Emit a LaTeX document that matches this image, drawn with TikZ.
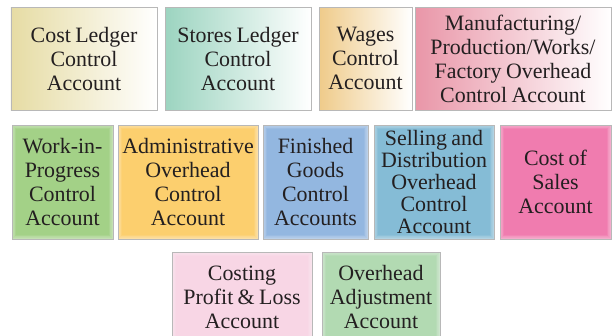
\documentclass[tikz,border=0pt]{standalone}
\usepackage{fontspec}
\setmainfont{Liberation Serif}
\definecolor{txt}{HTML}{231F20}
\definecolor{cA}{HTML}{E6DCA4}
\definecolor{cB}{HTML}{9CD4C0}
\definecolor{cC}{HTML}{EFCB8A}
\definecolor{cD}{HTML}{E996A8}
\definecolor{cE}{HTML}{A3D187}
\definecolor{cF}{HTML}{FCCF6E}
\definecolor{cG}{HTML}{93B7E0}
\definecolor{cH}{HTML}{85BCD6}
\definecolor{cI}{HTML}{F07CAF}
\definecolor{cJ}{HTML}{F8D6E5}
\definecolor{cK}{HTML}{B2DAB2}
\tikzset{
  acct/.style={draw=black!28, line width=0.6bp, inner sep=0pt, align=center,
    text=txt, font=\fontsize{22}{24}\selectfont,
    execute at begin node={\spaceskip=0.2em\relax}},
  gradbox/.style={acct, left color=#1, right color=white},
  glowbox/.style={acct, fill=#1, path picture={
    \foreach \k in {1,...,6}{
      \pgfmathsetmacro\lw{\k*1.3}
      \draw[white, opacity=0.08, line width=\lw bp]
        (path picture bounding box.south west) rectangle (path picture bounding box.north east);
    }}},
}
\begin{document}
\begin{tikzpicture}[x=1bp,y=-1bp]
\useasboundingbox (0,0) rectangle (612,335);
\clip (0,0) rectangle (612,335);
\fill[white] (0,0) rectangle (612,335);
% row 1
\node[gradbox=cA, minimum width=146bp, minimum height=102.5bp, text width=142bp] (cl) at (84,58.75)
  {Cost Ledger\\Control\\Account};
\node[gradbox=cB, minimum width=146bp, minimum height=102.5bp, text width=142bp] (sl) at (238,58.75)
  {Stores Ledger\\Control\\Account};
\node[gradbox=cC, minimum width=93bp, minimum height=102.5bp, text width=91bp] (wg) at (365.5,58.75)
  {Wages\\Control\\Account};
\node[gradbox=cD, minimum width=196bp, minimum height=102.5bp, text width=192bp] (mf) at (513,58.75)
  {Manufacturing/\\Production/Works/\\Factory Overhead\\Control Account};
% row 2
\node[glowbox=cE, minimum width=101bp, minimum height=114bp, text width=99bp] (wip) at (62.5,182)
  {Work-in-\\Progress\\Control\\Account};
\node[glowbox=cF, minimum width=140bp, minimum height=114bp, text width=139bp] (adm) at (188,182)
  {Administrative\\Overhead\\Control\\Account};
\node[glowbox=cG, minimum width=105bp, minimum height=114bp, text width=103bp] (fg) at (315.5,182)
  {Finished\\Goods\\Control\\Accounts};
\node[glowbox=cH, minimum width=120bp, minimum height=114bp, text width=119bp,
  font=\fontsize{22}{22}\selectfont] (sd) at (434,182)
  {Selling and\\Distribution\\Overhead\\Control\\Account};
\node[glowbox=cI, minimum width=111bp, minimum height=114bp, text width=109bp] (cs) at (555.5,182)
  {Cost of\\Sales\\Account};
% row 3
\node[glowbox=cJ, minimum width=140bp, minimum height=90bp, text width=139bp] (pl) at (242,297)
  {Costing\\Profit \& Loss\\Account};
\node[glowbox=cK, minimum width=118bp, minimum height=90bp, text width=117bp] (oa) at (381,297)
  {Overhead\\Adjustment\\Account};
\end{tikzpicture}
\end{document}
